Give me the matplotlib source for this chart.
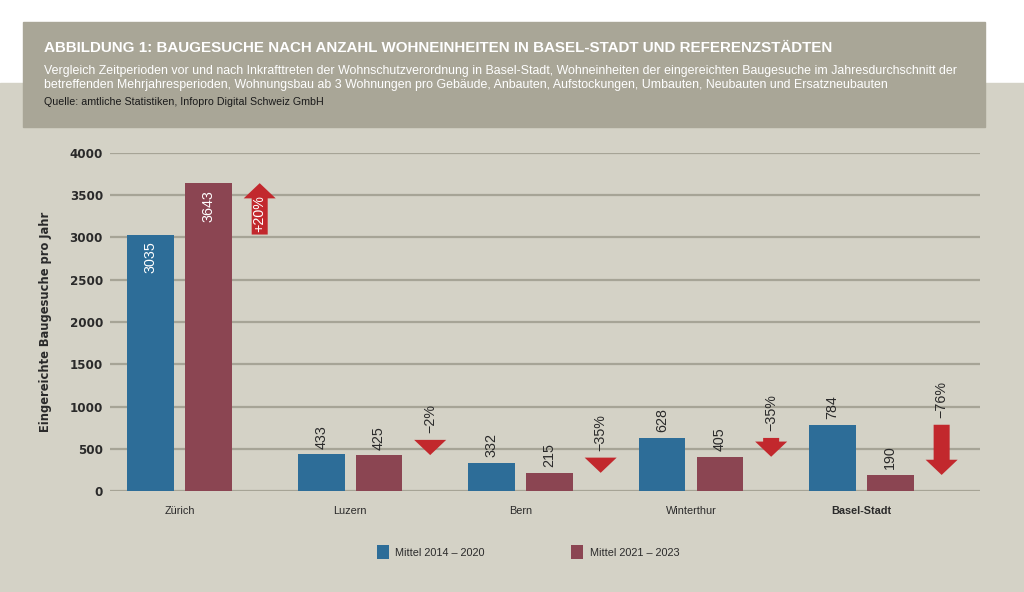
import matplotlib.pyplot as plt
from matplotlib.patches import Rectangle
import numpy as np

# data
cities = ['Zürich', 'Luzern', 'Bern', 'Winterthur', 'Basel-Stadt']
mittel_2014_2020 = [3035, 433, 332, 628, 784]
mittel_2021_2023 = [3643, 425, 215, 405, 190]
change_labels = ['+20%', '\u22122%', '\u221235%', '\u221235%', '\u221276%']
legend_labels = ['Mittel 2014 \u2013 2020', 'Mittel 2021 \u2013 2023']
yticks = [0, 500, 1000, 1500, 2000, 2500, 3000, 3500, 4000]

title = 'ABBILDUNG 1: BAUGESUCHE NACH ANZAHL WOHNEINHEITEN IN BASEL-STADT UND REFERENZSTÄDTEN'
subtitle_1 = ('Vergleich Zeitperioden vor und nach Inkrafttreten der Wohnschutzverordnung in Basel-Stadt, '
              'Wohneinheiten der eingereichten Baugesuche im Jahresdurchschnitt der')
subtitle_2 = ('betreffenden Mehrjahresperioden, Wohnungsbau ab 3 Wohnungen pro Gebäude, Anbauten, '
              'Aufstockungen, Umbauten, Neubauten und Ersatzneubauten')
source = 'Quelle: amtliche Statistiken, Infopro Digital Schweiz GmbH'

BLUE = '#2d6d98'
WINE = '#8b4552'
ARROW = '#c2282d'
BG = '#d4d2c6'
BOX = '#a9a697'
GRID = '#a6a496'
TXT = '#2a2a2a'

plt.rcParams['font.family'] = ['Liberation Sans', 'DejaVu Sans']

fig = plt.figure(figsize=(10.24, 5.92), dpi=100)
W, H = 1024, 592
fig.patches.append(Rectangle((0, 0), 1, 1 - 83 / H, transform=fig.transFigure,
                             color=BG, zorder=-10))
fig.patches.append(Rectangle((23 / W, 1 - 127 / H), (985 - 23) / W, 105 / H,
                             transform=fig.transFigure, color=BOX, zorder=-9))

fig.text(44 / W, 1 - 48 / H, title, color='white', fontsize=10.9, fontweight='bold',
         va='center', ha='left')
fig.text(44 / W, 1 - 71 / H, subtitle_1, color='white', fontsize=8.95, va='center', ha='left')
fig.text(44 / W, 1 - 85 / H, subtitle_2, color='white', fontsize=8.95, va='center', ha='left')
fig.text(44 / W, 1 - 102 / H, source, color='#1a1a1a', fontsize=7.7, va='center', ha='left')

ax = fig.add_axes([110 / W, 1 - 491 / H, (980 - 110) / W, (491 - 153) / H])
ax.set_facecolor('none')
x = np.arange(len(cities))
bw = 0.273
off = 0.169
b1 = ax.bar(x - off, mittel_2014_2020, bw, color=BLUE, zorder=3, label=legend_labels[0])
b2 = ax.bar(x + off, mittel_2021_2023, bw, color=WINE, zorder=3, label=legend_labels[1])

ax.set_ylim(0, 4000)
ax.set_xlim(-0.408, 4.695)
ax.set_yticks(yticks)
ax.yaxis.grid(True, color=GRID, linewidth=1.6, zorder=0)
ax.tick_params(axis='y', length=0, pad=5, labelsize=8.6, labelcolor=TXT)
for lab in ax.get_yticklabels():
    lab.set_fontweight('bold')
    lab.set_family(['DejaVu Sans'])
ax.set_xticks(x)
ax.set_xticklabels(cities, fontsize=7.8, color=TXT)
ax.tick_params(axis='x', length=0, pad=11)
ax.get_xticklabels()[-1].set_fontweight('bold')
for s in ax.spines.values():
    s.set_visible(False)
ax.set_ylabel('Eingereichte Baugesuche pro Jahr', fontsize=8.3, fontweight='bold',
              family=['DejaVu Sans'], color=TXT)
ax.yaxis.set_label_coords(-58 / 870, 0.5)

# value labels
for i in range(len(cities)):
    for xv, v in ((x[i] - off, mittel_2014_2020[i]), (x[i] + off, mittel_2021_2023[i])):
        if v > 2000:
            ax.annotate(str(v), (xv, v), xytext=(0, -5), textcoords='offset points',
                        rotation=90, ha='center', va='top', color='white', fontsize=10.3)
        else:
            ax.annotate(str(v), (xv, v), xytext=(0, 4), textcoords='offset points',
                        rotation=90, ha='center', va='bottom', color=TXT, fontsize=10.3)

# change arrows
ax_off = 0.47
body_w = 0.094
head_w = 0.188
head_l = 180
for i in range(len(cities)):
    a, b = mittel_2014_2020[i], mittel_2021_2023[i]
    xc = x[i] + ax_off
    if b > a:
        neck = b - head_l
        px = [xc - body_w / 2, xc + body_w / 2, xc + body_w / 2, xc + head_w / 2, xc,
              xc - head_w / 2, xc - body_w / 2]
        py = [a, a, neck, neck, b, neck, neck]
        ax.fill(px, py, color=ARROW, zorder=4, lw=0)
        ax.text(xc, (a + neck) / 2 + 40, change_labels[i], rotation=90, ha='center',
                va='center', color='white', fontsize=10.3, zorder=5)
    else:
        top = max(a, b + head_l)
        neck = b + head_l
        px = [xc - body_w / 2, xc + body_w / 2, xc + body_w / 2, xc + head_w / 2, xc,
              xc - head_w / 2, xc - body_w / 2]
        py = [top, top, neck, neck, b, neck, neck]
        ax.fill(px, py, color=ARROW, zorder=4, lw=0)
        ax.annotate(change_labels[i], (xc, top), xytext=(0, 5), textcoords='offset points',
                    rotation=90, ha='center', va='bottom', color=TXT, fontsize=10.3)

fig.legend(handles=[b1, b2], labels=legend_labels, loc='center', ncol=2,
           bbox_to_anchor=(528 / W, 1 - 552 / H), frameon=False, fontsize=7.8,
           handlelength=1.1, handleheight=1.5, columnspacing=8, handletextpad=0.6,
           labelcolor=TXT)

fig.savefig('out.png', dpi=100)
